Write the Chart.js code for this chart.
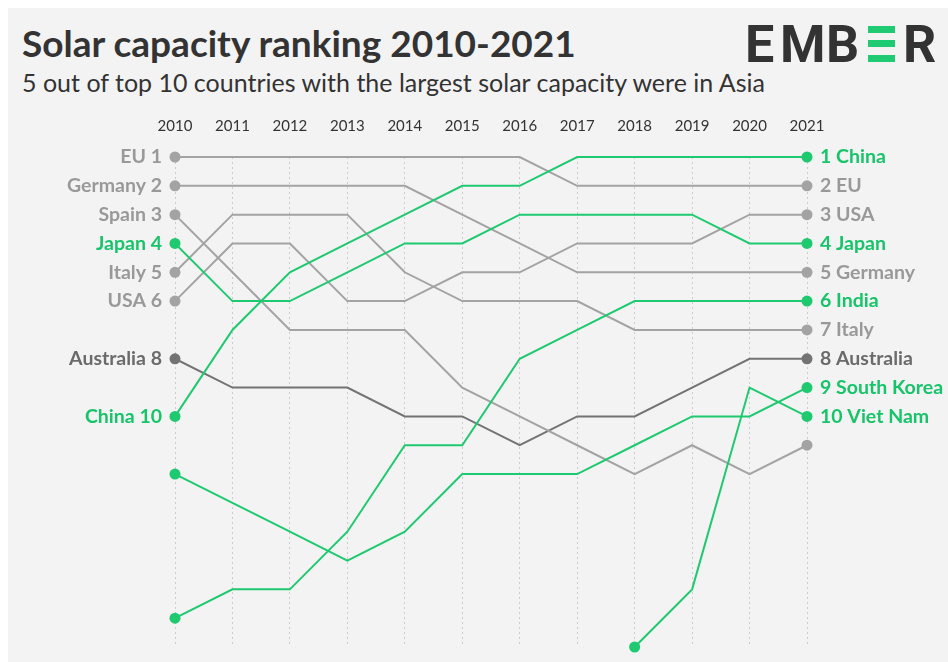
<!DOCTYPE html>
<html>
<head>
<meta charset="utf-8">
<script src="https://cdn.jsdelivr.net/npm/chart.js@4.4.1/dist/chart.umd.min.js"></script>
<style>
  html, body { margin: 0; padding: 0; background: #fff; }
  body { width: 948px; height: 662px; position: relative; overflow: hidden; font-family: Lato, sans-serif; }
  #panel { position: absolute; left: 8px; top: 8px; right: 0; bottom: 0; background: #f3f3f3; }
  #title { position: absolute; left: 22px; top: 24px; font-size: 37px; line-height: 37px; font-weight: 700; color: #333; white-space: nowrap; }
  #subtitle { position: absolute; left: 22px; top: 70px; font-size: 25px; line-height: 25px; color: #333; white-space: nowrap; }
  .logo { position: absolute; top: 19px; font-family: Roboto, sans-serif; font-weight: 700; font-size: 52px; line-height: 52px; color: #333; }
  .logo.green { color: transparent; }
  .bar { position: absolute; left: 868px; width: 27px; height: 7px; background: #1ecb72; }
  #wrap { position: absolute; left: 0; top: 100px; width: 948px; height: 562px; }
</style>
</head>
<body>
<div id="panel"></div>
<div id="title">Solar capacity ranking 2010-2021</div>
<div id="subtitle">5 out of top 10 countries with the largest solar capacity were in Asia</div>

<!-- logo: the middle E is drawn as three green bars -->
<span class="logo" style="left:745px">E</span>
<span class="logo" style="left:780px">M</span>
<span class="logo" style="left:826px">B</span>
<span class="logo green" style="left:866px">E</span>
<span class="logo" style="left:903px">R</span>
<div class="bar" style="top:26px"></div>
<div class="bar" style="top:40px"></div>
<div class="bar" style="top:55px"></div>

<div id="wrap"><canvas id="rankChart" width="948" height="562"></canvas></div>

<script>
// --- DATA: solar capacity rank per year (1 = largest) ---
const years = ['2010', '2011', '2012', '2013', '2014', '2015', '2016', '2017', '2018', '2019', '2020', '2021'];

const chinaRank     = [10, 7, 5, 4, 3, 2, 2, 1, 1, 1, 1, 1];
const japanRank     = [4, 6, 6, 5, 4, 4, 3, 3, 3, 3, 4, 4];
const indiaRank     = [17, 16, 16, 14, 11, 11, 8, 7, 6, 6, 6, 6];
const koreaRank     = [12, 13, 14, 15, 14, 12, 12, 12, 11, 10, 10, 9];
const vietnamRank   = [null, null, null, null, null, null, null, null, 18, 16, 9, 10];
const euRank        = [1, 1, 1, 1, 1, 1, 1, 2, 2, 2, 2, 2];
const germanyRank   = [2, 2, 2, 2, 2, 3, 4, 5, 5, 5, 5, 5];
const spainRank     = [3, 5, 7, 7, 7, 9, 10, 11, 12, 11, 12, 11];
const italyRank     = [5, 3, 3, 3, 5, 6, 6, 6, 7, 7, 7, 7];
const usaRank       = [6, 4, 4, 6, 6, 5, 5, 4, 4, 4, 3, 3];
const australiaRank = [8, 9, 9, 9, 10, 10, 11, 10, 10, 9, 8, 8];

// only countries ranked in the top 10 get a name next to their end dot
const TOP = 10;

// --- COLOURS ---
const GREEN = '#1fc970', GREEN_TXT = '#17c46a';
const GREY = '#a3a3a3', GREY_TXT = '#999999';
const DARK = '#737373', DARK_TXT = '#6b6b6b';

// asian countries first so they are painted on top
const series = [
  { name: 'China', ranks: chinaRank, tone: 'green' },
  { name: 'Japan', ranks: japanRank, tone: 'green' },
  { name: 'India', ranks: indiaRank, tone: 'green' },
  { name: 'South Korea', ranks: koreaRank, tone: 'green' },
  { name: 'Viet Nam', ranks: vietnamRank, tone: 'green' },
  { name: 'EU', ranks: euRank, tone: 'grey' },
  { name: 'Germany', ranks: germanyRank, tone: 'grey' },
  { name: 'Spain', ranks: spainRank, tone: 'grey' },
  { name: 'Italy', ranks: italyRank, tone: 'grey' },
  { name: 'USA', ranks: usaRank, tone: 'grey' },
  { name: 'Australia', ranks: australiaRank, tone: 'dark' }
];

function lineColor(tone) { return tone === 'green' ? GREEN : tone === 'dark' ? DARK : GREY; }
function textColor(tone) { return tone === 'green' ? GREEN_TXT : tone === 'dark' ? DARK_TXT : GREY_TXT; }

// labels for both ends, sorted by rank so the scriptable tick options can use ctx.index
const startLabels = series
  .filter(s => s.ranks[0] !== null && s.ranks[0] <= TOP)
  .map(s => ({ rank: s.ranks[0], text: s.name + ' ' + s.ranks[0], tone: s.tone }))
  .sort((a, b) => a.rank - b.rank);

const endLabels = series
  .filter(s => s.ranks[s.ranks.length - 1] <= TOP)
  .map(s => { const r = s.ranks[s.ranks.length - 1]; return { rank: r, text: r + ' ' + s.name, tone: s.tone }; })
  .sort((a, b) => a.rank - b.rank);

const FONT = 'Lato, sans-serif';
const labelFont = { family: FONT, size: 19.5, weight: 'bold' };

const datasets = series.map(s => {
  const first = s.ranks.findIndex(v => v !== null);
  const last = s.ranks.length - 1;
  const isEnd = ctx => ctx.dataIndex === first || ctx.dataIndex === last;
  return {
    label: s.name,
    data: s.ranks,
    borderColor: lineColor(s.tone),
    backgroundColor: lineColor(s.tone),
    borderWidth: 2,
    pointRadius: ctx => isEnd(ctx) ? 5.5 : 0,
    pointHoverRadius: ctx => isEnd(ctx) ? 5.5 : 0,
    pointBorderWidth: 0,
    tension: 0,
    clip: false,
    yAxisID: 'y'
  };
});

// rank 1 at the top, room down to rank 18
const rankScale = { min: 1, max: 18, reverse: true };

// fixed side widths; the name labels need no extra room above or below
function sideFit(width) {
  return s => { s.width = width; s.paddingTop = 0; s.paddingBottom = 0; };
}

new Chart(document.getElementById('rankChart'), {
  type: 'line',
  data: { labels: years, datasets: datasets },
  options: {
    responsive: false,
    animation: false,
    devicePixelRatio: 1,
    layout: { padding: { top: 0, left: 0, right: 0, bottom: 15 } },
    plugins: { legend: { display: false }, tooltip: { enabled: false } },
    scales: {
      x: {
        type: 'category',
        position: 'top',
        offset: false,
        afterFit: s => { s.height = 57; },
        grid: { color: '#cccccc', lineWidth: 1, drawTicks: false },
        border: { display: false, dash: [2, 3] },
        ticks: { color: '#333', font: { family: FONT, size: 15 }, padding: 22, maxRotation: 0, autoSkip: false }
      },
      y: {
        ...rankScale,
        position: 'left',
        afterFit: sideFit(175),
        afterBuildTicks: s => { s.ticks = startLabels.map(l => ({ value: l.rank })); },
        grid: { display: false, drawTicks: false },
        border: { display: false },
        ticks: {
          autoSkip: false,
          padding: 13,
          font: labelFont,
          color: ctx => textColor(startLabels[ctx.index] ? startLabels[ctx.index].tone : 'grey'),
          callback: (v, i) => startLabels[i] ? startLabels[i].text : ''
        }
      },
      y2: {
        ...rankScale,
        position: 'right',
        afterFit: sideFit(141),
        afterBuildTicks: s => { s.ticks = endLabels.map(l => ({ value: l.rank })); },
        grid: { display: false, drawTicks: false },
        border: { display: false },
        ticks: {
          autoSkip: false,
          padding: 13,
          font: labelFont,
          color: ctx => textColor(endLabels[ctx.index] ? endLabels[ctx.index].tone : 'grey'),
          callback: (v, i) => endLabels[i] ? endLabels[i].text : ''
        }
      }
    }
  }
});
</script>
</body>
</html>
